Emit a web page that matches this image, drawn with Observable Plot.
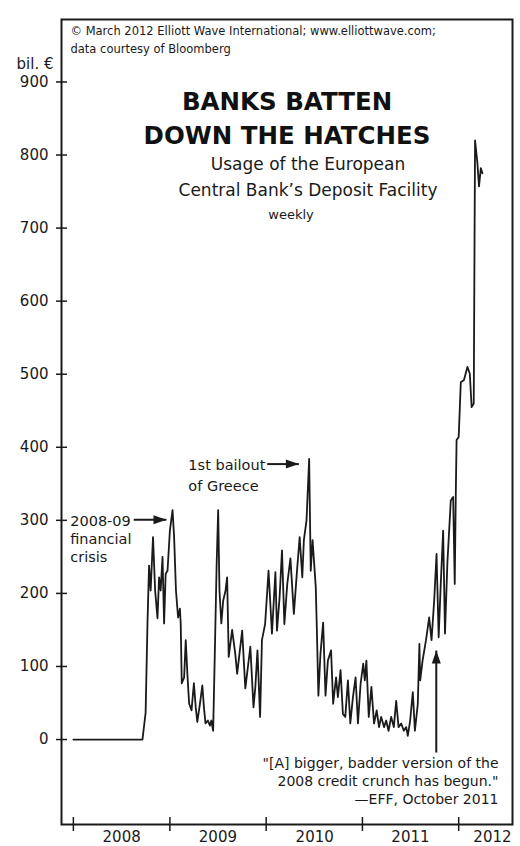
<!DOCTYPE html>
<html><head><meta charset="utf-8">
<script src="https://cdn.jsdelivr.net/npm/d3@7"></script>
<script src="https://cdn.jsdelivr.net/npm/@observablehq/plot@0.6"></script>
<style>html,body{margin:0;padding:0;background:#fff;} #chart svg{display:block}</style>
</head><body><div id="chart"></div>
<script>
// Weekly usage of the ECB deposit facility, billions of euros
const y2008 = [["2008-01-01",0],["2008-09-19",0],["2008-10-01",37],["2008-10-08",159],["2008-10-14",238],["2008-10-20",204],["2008-10-29",277],["2008-11-06",204],["2008-11-15",166],["2008-11-21",222],["2008-11-27",204],["2008-12-04",250],["2008-12-10",159],["2008-12-16",227],["2008-12-23",231]];
const y2009 = [["2009-01-01",286],["2009-01-11",314],["2009-01-17",277],["2009-01-24",204],["2009-02-01",167],["2009-02-08",179],["2009-02-11",159],["2009-02-15",77],["2009-02-24",85],["2009-03-02",136],["2009-03-09",85],["2009-03-15",49],["2009-03-24",40],["2009-04-02",77],["2009-04-09",44],["2009-04-15",24],["2009-04-25",49],["2009-05-04",74],["2009-05-10",44],["2009-05-16",22],["2009-05-25",26],["2009-06-02",19],["2009-06-07",26],["2009-06-14",12],["2009-06-20",113],["2009-06-27",236],["2009-07-03",314],["2009-07-08",204],["2009-07-15",159],["2009-07-22",190],["2009-07-31",204],["2009-08-06",222],["2009-08-12",113],["2009-08-25",150],["2009-09-06",117],["2009-09-13",90],["2009-10-02",149],["2009-10-14",70],["2009-11-02",127],["2009-11-14",44],["2009-11-21",72],["2009-11-29",122],["2009-12-09",31],["2009-12-16",136],["2009-12-28",158]];
const y2010 = [["2010-01-10",231],["2010-01-23",145],["2010-02-05",229],["2010-02-11",149],["2010-02-21",195],["2010-03-02",259],["2010-03-11",158],["2010-03-22",213],["2010-04-03",248],["2010-04-16",172],["2010-04-29",236],["2010-05-08",277],["2010-05-18",222],["2010-05-24",273],["2010-06-03",300],["2010-06-13",384],["2010-06-19",231],["2010-06-26",273],["2010-07-08",209],["2010-07-12",154],["2010-07-18",60],["2010-07-26",118],["2010-08-05",160],["2010-08-14",60],["2010-08-23",108],["2010-09-04",122],["2010-09-12",49],["2010-09-23",85],["2010-09-30",58],["2010-10-10",95],["2010-10-19",35],["2010-10-28",31],["2010-11-07",81],["2010-11-16",22],["2010-11-26",58],["2010-12-06",85],["2010-12-15",22],["2010-12-25",76]];
const y2011 = [["2011-01-04",104],["2011-01-10",81],["2011-01-16",108],["2011-01-25",31],["2011-02-04",72],["2011-02-14",22],["2011-02-24",40],["2011-03-05",17],["2011-03-13",31],["2011-03-24",17],["2011-04-01",26],["2011-04-10",12],["2011-04-20",31],["2011-04-30",17],["2011-05-09",53],["2011-05-18",17],["2011-05-28",22],["2011-06-07",12],["2011-06-16",17],["2011-06-22",5],["2011-07-01",26],["2011-07-11",65],["2011-07-19",12],["2011-07-30",49],["2011-08-05",131],["2011-08-08",81],["2011-08-17",108],["2011-08-30",136],["2011-09-11",167],["2011-09-20",136],["2011-09-30",190],["2011-10-09",254],["2011-10-17",140],["2011-10-25",213],["2011-11-03",286],["2011-11-10",145],["2011-11-19",241],["2011-12-02",327],["2011-12-11",332],["2011-12-17",213],["2011-12-21",336],["2011-12-24",410]];
const y2012 = [["2012-01-01",414],["2012-01-09",489],["2012-01-21",492],["2012-02-03",510],["2012-02-12",501],["2012-02-19",455],["2012-02-27",460],["2012-03-03",820],["2012-03-12",789],["2012-03-18",757],["2012-03-25",782],["2012-03-31",775]];

const yTicks = [0, 100, 200, 300, 400, 500, 600, 700, 800, 900];
const yearTicks = ["2008-01-01", "2009-01-01", "2010-01-01", "2011-01-01", "2012-01-01"];
const yearLabelDates = ["2008-07-02", "2009-07-02", "2010-07-04", "2011-07-02", "2012-05-08"];
const xDomain = ["2007-11-17", "2012-07-23"];
const yDomain = [-116.3, 985.5];

const copyright = "© March 2012 Elliott Wave International; www.elliottwave.com;\ndata courtesy of Bloomberg";
const unitLabel = "bil. €";
const title = "BANKS BATTEN\nDOWN THE HATCHES";
const subtitle = "Usage of the European\nCentral Bank’s Deposit Facility";
const frequency = "weekly";
const quote = "\"[A] bigger, badder version of the\n2008 credit crunch has begun.\"\n—EFF, October 2011";

const crisisNote = [{date: "2007-12-20", value: 310.8, text: "2008-09\nfinancial\ncrisis"}];
const greeceNote = [{date: "2009-03-12", value: 390, text: "1st bailout\nof Greece"}];
const arrows = [
  {x1: "2008-08-17", y1: 300.7, x2: "2008-12-19", y2: 300.7, dir: 90},
  {x1: "2010-01-05", y1: 377, x2: "2010-05-05", y2: 377, dir: 90},
  {x1: "2011-10-08", y1: -17.8, x2: "2011-10-08", y2: 121.8, dir: 0}
];

const series = [...y2008, ...y2009, ...y2010, ...y2011, ...y2012].map(([d, v]) => ({date: new Date(d), value: v}));
const toDate = (s) => new Date(s);
const arrowData = arrows.map(a => ({...a, x1: toDate(a.x1), x2: toDate(a.x2)}));
const head = {draw(ctx) { ctx.moveTo(0, 0); ctx.lineTo(4.5, 13); ctx.lineTo(-4.5, 13); ctx.closePath(); }};

const FONT = "'DejaVu Sans', sans-serif";
const INK = "#1a1a1a";

const chart = Plot.plot({
  width: 520, height: 846,
  marginLeft: 61, marginRight: 8, marginTop: 19, marginBottom: 22,
  style: {fontFamily: FONT, background: "#fff", color: INK},
  x: {type: "utc", domain: xDomain.map(toDate), axis: null},
  y: {domain: yDomain, axis: null},
  marks: [
    Plot.frame({stroke: INK, strokeWidth: 2}),
    Plot.axisY(yTicks, {anchor: "left", tickSize: 11, dx: 6, tickPadding: 8, fontSize: 15, strokeWidth: 1.5, label: null, fill: INK}),
    Plot.axisX(yearTicks.map(toDate), {anchor: "bottom", tickSize: 14, dy: -7, tickFormat: () => "", strokeWidth: 1.5, label: null}),
    Plot.axisX(yearLabelDates.map(toDate), {anchor: "bottom", tickSize: 0, tickPadding: 7, tickFormat: d3.utcFormat("%Y"), fontSize: 15, label: null, fill: INK}),
    Plot.line(series, {x: "date", y: "value", stroke: INK, strokeWidth: 1.8, strokeLinejoin: "round"}),
    Plot.link(arrowData, {x1: "x1", y1: "y1", x2: "x2", y2: "y2", stroke: INK, strokeWidth: 2}),
    Plot.dot(arrowData, {x: "x2", y: "y2", symbol: head, rotate: "dir", fill: INK, stroke: "none", r: 5}),
    Plot.text(crisisNote, {x: d => toDate(d.date), y: "value", text: "text", textAnchor: "start", lineAnchor: "top", lineHeight: 1.27, fontSize: 14.5, fill: INK}),
    Plot.text(greeceNote, {x: d => toDate(d.date), y: "value", text: "text", textAnchor: "start", lineAnchor: "top", lineHeight: 1.45, fontSize: 14.5, fill: INK}),
    Plot.text([copyright], {frameAnchor: "top-left", dx: 9, dy: 3.75, lineAnchor: "top", textAnchor: "start", lineHeight: 1.5, fontSize: 11.5, fill: INK}),
    Plot.text([unitLabel], {frameAnchor: "top-left", dx: -8, dy: 39, lineAnchor: "top", textAnchor: "end", fontSize: 15, fill: INK}),
    Plot.text([title], {frameAnchor: "top", dx: 0, dy: 67.5, lineAnchor: "top", lineHeight: 1.35, fontSize: 24.5, fontWeight: "bold", fill: "#111"}),
    Plot.text([subtitle], {frameAnchor: "top", dx: 21, dy: 132.5, lineAnchor: "top", lineHeight: 1.53, fontSize: 17, fill: INK}),
    Plot.text([frequency], {frameAnchor: "top", dx: 4, dy: 189.8, lineAnchor: "top", fontSize: 13, fill: INK}),
    Plot.text([quote], {frameAnchor: "bottom-right", dx: -14, dy: -69.8, lineAnchor: "top", textAnchor: "end", lineHeight: 1.29, fontSize: 14, fill: INK})
  ]
});
document.getElementById("chart").append(chart);
</script>
</body></html>
